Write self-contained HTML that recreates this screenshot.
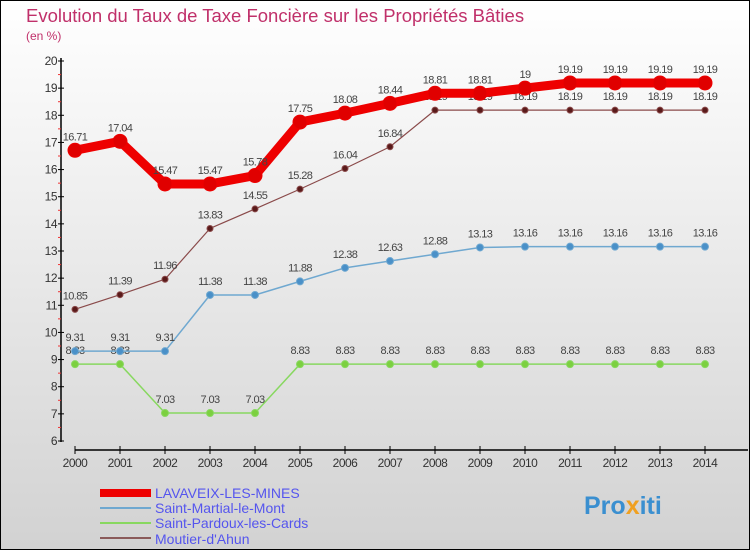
<!DOCTYPE html>
<html><head><meta charset="utf-8"><style>
body{margin:0}
svg{display:block;font-family:"Liberation Sans",sans-serif}
</style></head><body>
<svg id="chart" width="750" height="550">
<defs><linearGradient id="bg" x1="0" y1="0" x2="0" y2="1"><stop offset="0" stop-color="#ffffff"/><stop offset="1" stop-color="#d2d2d2"/></linearGradient></defs>
<rect x="0.5" y="0.5" width="749" height="549" fill="url(#bg)" stroke="#000"/>
<text x="26" y="22" font-size="18.5" fill="#c0306a">Evolution du Taux de Taxe Foncière sur les Propriétés Bâties</text>
<text x="26" y="40" font-size="12" fill="#c0306a">(en %)</text>
<g id="axes"></g><g id="series"></g>
<g>
<rect x="100" y="489" width="51" height="8" fill="#e00"/>
<text x="155" y="498" font-size="14" fill="#5555ee">LAVAVEIX-LES-MINES</text>
<rect x="100" y="507" width="51" height="2" fill="#6fa8d0"/>
<text x="155" y="513" font-size="14" fill="#5555ee">Saint-Martial-le-Mont</text>
<rect x="100" y="522" width="51" height="2" fill="#88d860"/>
<text x="155" y="528" font-size="14" fill="#5555ee">Saint-Pardoux-les-Cards</text>
<rect x="100" y="537" width="51" height="2" fill="#8a5a5a"/>
<text x="155" y="544" font-size="14" fill="#5555ee">Moutier-d'Ahun</text>
</g>
<text x="584" y="514" font-size="25" font-weight="bold" fill="#3a8fd0">Pro<tspan fill="#f0a020">x</tspan>iti</text>
</svg>
<script>
const years=[2000,2001,2002,2003,2004,2005,2006,2007,2008,2009,2010,2011,2012,2013,2014];
const yTicks=[6,7,8,9,10,11,12,13,14,15,16,17,18,19,20];
const lavaveix=[16.71,17.04,15.47,15.47,15.78,17.75,18.08,18.44,18.81,18.81,19,19.19,19.19,19.19,19.19];
const martial=[9.31,9.31,9.31,11.38,11.38,11.88,12.38,12.63,12.88,13.13,13.16,13.16,13.16,13.16,13.16];
const pardoux=[8.83,8.83,7.03,7.03,7.03,8.83,8.83,8.83,8.83,8.83,8.83,8.83,8.83,8.83,8.83];
const moutier=[10.85,11.39,11.96,13.83,14.55,15.28,16.04,16.84,18.19,18.19,18.19,18.19,18.19,18.19,18.19];
const NS="http://www.w3.org/2000/svg";
const xs=i=>75+i*45;
const ys=v=>441-(v-6)*(380/14);
function mk(tag,attrs,parent,txt){const e=document.createElementNS(NS,tag);for(const k in attrs)e.setAttribute(k,attrs[k]);if(txt!==undefined)e.textContent=txt;parent.appendChild(e);return e;}
const ax=document.getElementById('axes');
let e=mk('line',{x1:61,y1:58,x2:61,y2:442,stroke:'#000','stroke-width':1.5},ax);


e=mk('line',{x1:75,y1:450,x2:748,y2:450,stroke:'#000','stroke-width':1.5},ax);


yTicks.forEach(t=>{
  mk('line',{x1:58,y1:ys(t),x2:64,y2:ys(t),stroke:'#000'},ax);
  if(t<20) mk('line',{x1:58,y1:ys(t+0.5),x2:61,y2:ys(t+0.5),stroke:'#e33'},ax);
  const l=mk('text',{x:57,y:ys(t)+4,'font-size':12,fill:'#333','text-anchor':'end','letter-spacing':'-0.5'},ax,t);
  
  
});
years.forEach((y,i)=>{
  mk('line',{x1:xs(i),y1:446,x2:xs(i),y2:454,stroke:'#000'},ax);
  const l=mk('text',{x:xs(i),y:467,'font-size':12,fill:'#333','text-anchor':'middle','letter-spacing':'-0.5'},ax,y);
  
  
});
const sg=document.getElementById('series');
function series(name,vals,color,w,r,dot){
  const g=mk('g',{},sg);
  
  
  const p=mk('polyline',{points:vals.map((v,i)=>xs(i)+','+ys(v)).join(' '),fill:'none',stroke:color,'stroke-width':w,'stroke-linejoin':'round'},g);
  
  
  vals.forEach((v,i)=>{
    const c=mk('circle',{cx:xs(i),cy:ys(v),r:r,fill:dot,stroke:color,'stroke-width':1},g);
    
    
    const t=mk('text',{x:xs(i),y:ys(v)-10,'font-size':11,fill:'#444','text-anchor':'middle','letter-spacing':'-0.6'},g,String(v));
    
    
  });
}
series('moutier',moutier,'#8a4a4a',1.2,3,'#5a1a1a');
series('saint-pardoux',pardoux,'#88d860',1.5,3.5,'#7cd040');
series('saint-martial',martial,'#6fa8d0',1.5,3.5,'#4a90c8');
series('lavaveix',lavaveix,'#ee0000',9,7,'#e00000');
</script>
</body></html>
